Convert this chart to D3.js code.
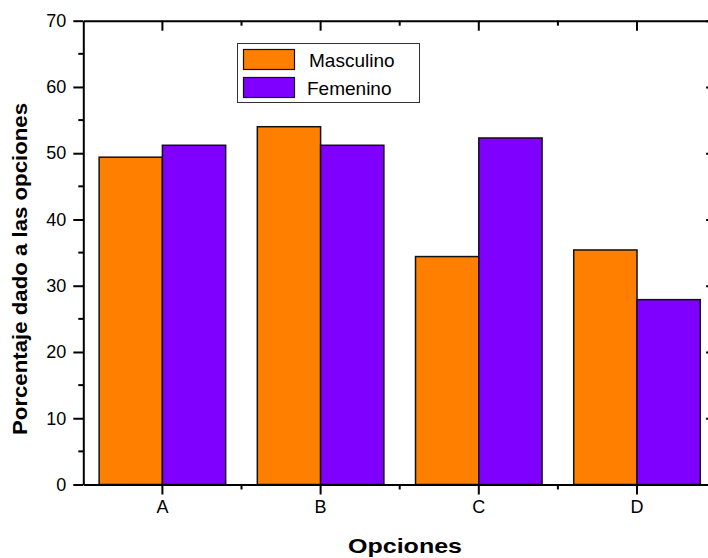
<!DOCTYPE html>
<html>
<head>
<meta charset="utf-8">
<script src="https://cdn.jsdelivr.net/npm/d3@7"></script>
<style>
  html, body { margin: 0; padding: 0; background: #fff; }
  svg { display: block; font-family: "Liberation Sans", Arial, sans-serif; }
</style>
</head>
<body>
<svg id="chart" width="708" height="558"></svg>
<script>
// Categories and series
const categories = ["A", "B", "C", "D"];
const seriesNames = ["Masculino", "Femenino"];
const masculino = [49.4, 54.0, 34.4, 35.4];
const femenino = [51.2, 51.2, 52.3, 27.9];
const seriesColors = ["#ff8000", "#8000ff"];
const yTicks = [0, 10, 20, 30, 40, 50, 60, 70];
const yMinorTicks = [5, 15, 25, 35, 45, 55, 65];
const yLabel = "Porcentaje dado a las opciones";
const xLabel = "Opciones";

const svg = d3.select("#chart");
const plotLeft = 83.3, plotRight = 716.1, plotTop = 20.7, plotBottom = 484.5;

const x = d3.scaleBand().domain(categories).range([plotLeft, plotRight]).padding(0);
const xs = d3.scaleBand().domain(seriesNames).range([0, x.bandwidth()]).paddingInner(0).paddingOuter(0.25);
const y = d3.scaleLinear().domain([0, 70]).range([plotBottom, plotTop]);

const rows = categories.map((c, i) => ({ cat: c, values: [masculino[i], femenino[i]] }));

// Bars
const groups = svg.append("g").selectAll("g").data(rows).join("g")
  .attr("transform", d => `translate(${x(d.cat)},0)`);
groups.selectAll("rect")
  .data(d => d.values.map((v, j) => ({ name: seriesNames[j], v, j })))
  .join("rect")
  .attr("x", d => xs(d.name))
  .attr("width", xs.bandwidth())
  .attr("y", d => y(d.v))
  .attr("height", d => y(0) - y(d.v))
  .attr("fill", d => seriesColors[d.j])
  .attr("stroke", "#111")
  .attr("stroke-width", 1.5);

// Axes
const tickFont = g => g.selectAll("text").attr("font-size", 18).attr("fill", "#000")
  .attr("font-family", "'Liberation Sans', Arial, sans-serif");
const styleAxis = g => {
  g.select(".domain").attr("stroke", "#000").attr("stroke-width", 2);
  g.selectAll(".tick line").attr("stroke", "#000").attr("stroke-width", 2);
};

const minorX = d3.range(0, categories.length + 1).map(k => plotLeft + k * x.step());

// Left axis
svg.append("g").attr("transform", `translate(${plotLeft},0)`)
  .call(d3.axisLeft(y).tickValues(yTicks).tickSize(10).tickSizeOuter(0).tickPadding(7))
  .call(styleAxis).call(tickFont);
svg.append("g").selectAll("line").data(yMinorTicks).join("line")
  .attr("x1", plotLeft - 5).attr("x2", plotLeft).attr("y1", d => y(d)).attr("y2", d => y(d))
  .attr("stroke", "#000").attr("stroke-width", 2);

// Right axis (inward ticks)
svg.append("g").attr("transform", `translate(${plotRight},0)`)
  .call(d3.axisLeft(y).tickValues(yTicks).tickSize(10).tickSizeOuter(0).tickFormat(""))
  .call(styleAxis);
svg.append("g").selectAll("line").data(yMinorTicks).join("line")
  .attr("x1", plotRight - 5).attr("x2", plotRight).attr("y1", d => y(d)).attr("y2", d => y(d))
  .attr("stroke", "#000").attr("stroke-width", 2);

// Bottom axis
svg.append("g").attr("transform", `translate(0,${plotBottom})`)
  .call(d3.axisBottom(x).tickSize(10).tickSizeOuter(0).tickPadding(6))
  .call(styleAxis).call(tickFont);
svg.append("g").selectAll("line").data(minorX.slice(1, -1)).join("line")
  .attr("x1", d => d).attr("x2", d => d).attr("y1", plotBottom).attr("y2", plotBottom + 5)
  .attr("stroke", "#000").attr("stroke-width", 2);

// Top axis (inward ticks)
svg.append("g").attr("transform", `translate(0,${plotTop})`)
  .call(d3.axisBottom(x).tickSize(10).tickSizeOuter(0).tickFormat(""))
  .call(styleAxis);
svg.append("g").selectAll("line").data(minorX.slice(1, -1)).join("line")
  .attr("x1", d => d).attr("x2", d => d).attr("y1", plotTop).attr("y2", plotTop + 5)
  .attr("stroke", "#000").attr("stroke-width", 2);

// Axis titles
svg.append("text")
  .attr("transform", "translate(27,269) rotate(-90)")
  .attr("text-anchor", "middle")
  .attr("font-size", 19.5).attr("font-weight", "bold")
  .attr("textLength", 332).attr("lengthAdjust", "spacingAndGlyphs")
  .text(yLabel);
svg.append("text")
  .attr("x", 405).attr("y", 553)
  .attr("text-anchor", "middle")
  .attr("font-size", 21).attr("font-weight", "bold")
  .attr("textLength", 114).attr("lengthAdjust", "spacingAndGlyphs")
  .text(xLabel);

// Legend
const legend = svg.append("g");
legend.append("rect")
  .attr("x", 237.5).attr("y", 43.5).attr("width", 182).attr("height", 59)
  .attr("fill", "#fff").attr("stroke", "#333").attr("stroke-width", 1);
const items = legend.selectAll("g.item").data(seriesNames).join("g").attr("class", "item")
  .attr("transform", (d, i) => `translate(0,${i * 28})`);
items.append("rect")
  .attr("x", 243.5).attr("y", 49.5).attr("width", 51).attr("height", 20)
  .attr("fill", (d, i) => seriesColors[i]).attr("stroke", "#111").attr("stroke-width", 1.2);
items.append("text")
  .attr("x", (d, i) => i === 0 ? 309 : 307).attr("y", 66.5)
  .attr("font-size", 19).attr("fill", "#000")
  .text(d => d);
</script>
</body>
</html>
